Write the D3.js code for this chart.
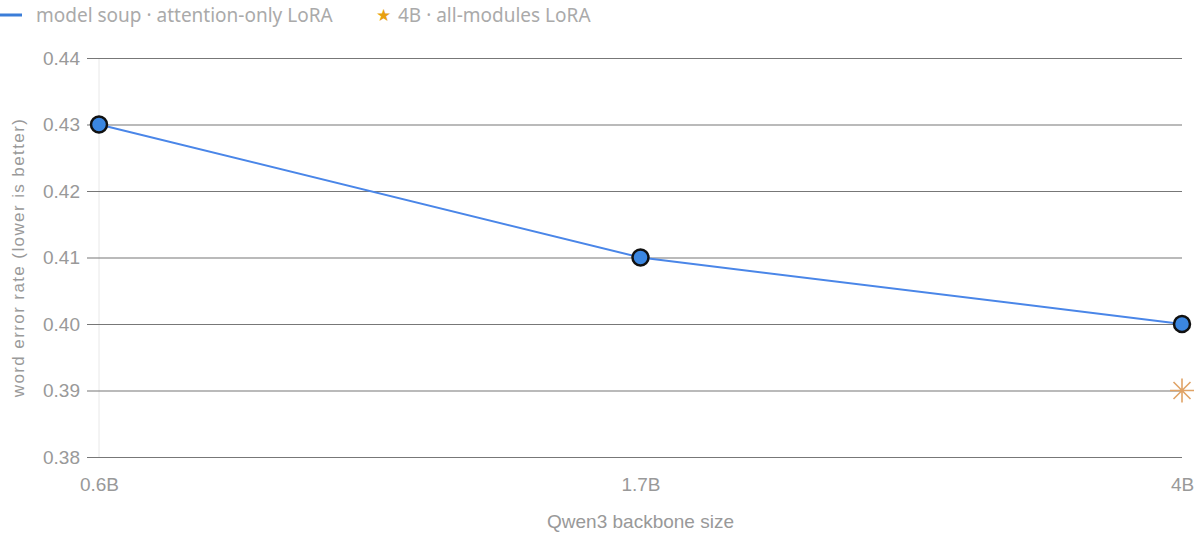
<!DOCTYPE html>
<html>
<head>
<meta charset="utf-8">
<script src="https://cdn.jsdelivr.net/npm/d3@7"></script>
<style>
body { margin: 0; background: #fff; }
svg { display: block; }
.ax text { font-family: "Liberation Sans", Arial, sans-serif; }
.lg text { font-family: "Noto Sans", "Open Sans", sans-serif; }
</style>
</head>
<body>
<div id="chart"></div>
<script>
// data
var sizes = ["0.6B", "1.7B", "4B"];
var soupWer = [0.43, 0.41, 0.40];
var allModSize = ["4B"];
var allModWer = [0.39];
var yTicks = [0.38, 0.39, 0.40, 0.41, 0.42, 0.43, 0.44];

var width = 1200, height = 542;
var margin = {top: 58, right: 18, bottom: 85, left: 99};

var svg = d3.select("#chart").append("svg")
    .attr("width", width)
    .attr("height", height);

var x = d3.scalePoint().domain(sizes).range([margin.left, width - margin.right]).padding(0);
var y = d3.scaleLinear().domain([0.38, 0.44]).range([height - margin.bottom, margin.top]);

// faint vertical axis line
svg.append("line")
    .attr("x1", x("0.6B")).attr("x2", x("0.6B"))
    .attr("y1", y(0.44)).attr("y2", y(0.38))
    .attr("stroke", "#e8e8e8").attr("stroke-width", 1);

// y axis + gridlines
var yAxis = svg.append("g")
    .attr("class", "ax")
    .attr("transform", "translate(" + margin.left + ",0)")
    .call(d3.axisLeft(y).tickValues(yTicks).tickFormat(d3.format(".2f"))
        .tickSize(-(x("4B") - x("0.6B"))).tickPadding(19));
yAxis.select(".domain").remove();
yAxis.selectAll(".tick line").attr("stroke", "#777").attr("stroke-width", 1.2).attr("x1", -12);
yAxis.selectAll(".tick text")
    .attr("fill", "#999").attr("font-size", 19);

// x axis
var xAxis = svg.append("g")
    .attr("class", "ax")
    .attr("transform", "translate(0," + (y(0.38)) + ")")
    .call(d3.axisBottom(x).tickSize(0).tickPadding(21));
xAxis.select(".domain").remove();
xAxis.selectAll(".tick text")
    .attr("fill", "#999").attr("font-size", 19);

// axis titles
var titles = svg.append("g").attr("class", "ax");
titles.append("text")
    .attr("x", x("1.7B")).attr("y", 528)
    .attr("text-anchor", "middle")
    .attr("fill", "#999").attr("font-size", 19)
    .text("Qwen3 backbone size");

titles.append("text")
    .attr("transform", "translate(24," + ((y(0.38) + y(0.44)) / 2) + ") rotate(-90)")
    .attr("text-anchor", "middle")
    .attr("fill", "#999").attr("font-size", 17)
    .attr("letter-spacing", 1.4)
    .text("word error rate (lower is better)");

// soup line
var soupData = sizes.map(function(s, i) { return {s: s, v: soupWer[i]}; });
svg.append("path")
    .datum(soupData)
    .attr("fill", "none")
    .attr("stroke", "#4a86e8")
    .attr("stroke-width", 2)
    .attr("d", d3.line().x(function(d) { return x(d.s); }).y(function(d) { return y(d.v); }));

svg.selectAll("circle.soup")
    .data(soupData)
    .enter()
    .append("circle")
    .attr("class", "soup")
    .attr("cx", function(d) { return x(d.s); })
    .attr("cy", function(d) { return y(d.v); })
    .attr("r", 8)
    .attr("fill", "#3b86e0")
    .attr("stroke", "#111")
    .attr("stroke-width", 2.5);

// all-modules asterisk
var asterisk = {
    draw: function(ctx, size) {
        var r = Math.sqrt(size) / 2;
        for (var k = 0; k < 4; ++k) {
            var a = k * Math.PI / 4;
            ctx.moveTo(-r * Math.cos(a), -r * Math.sin(a));
            ctx.lineTo(r * Math.cos(a), r * Math.sin(a));
        }
    }
};
var allModData = allModSize.map(function(s, i) { return {s: s, v: allModWer[i]}; });
svg.selectAll("path.allmod")
    .data(allModData)
    .enter()
    .append("path")
    .attr("class", "allmod")
    .attr("transform", function(d) { return "translate(" + x(d.s) + "," + y(d.v) + ")"; })
    .attr("d", d3.symbol().type(asterisk).size(24 * 24))
    .attr("fill", "none")
    .attr("stroke", "#e0a366")
    .attr("stroke-width", 1.6);

// legend
var legend = svg.append("g").attr("class", "lg").attr("font-size", 19);
legend.append("line")
    .attr("x1", 0).attr("x2", 22).attr("y1", 15).attr("y2", 15)
    .attr("stroke", "#3b7dd8").attr("stroke-width", 3);
legend.append("text")
    .attr("x", 36).attr("y", 22)
    .attr("fill", "#aaa")
    .text("model soup · attention-only LoRA");
legend.append("text")
    .attr("x", 383).attr("y", 21)
    .attr("text-anchor", "middle")
    .attr("fill", "#e8a010").attr("font-size", 17)
    .text("★");
legend.append("text")
    .attr("x", 398).attr("y", 22)
    .attr("fill", "#aaa")
    .text("4B · all-modules LoRA");
</script>
</body>
</html>
